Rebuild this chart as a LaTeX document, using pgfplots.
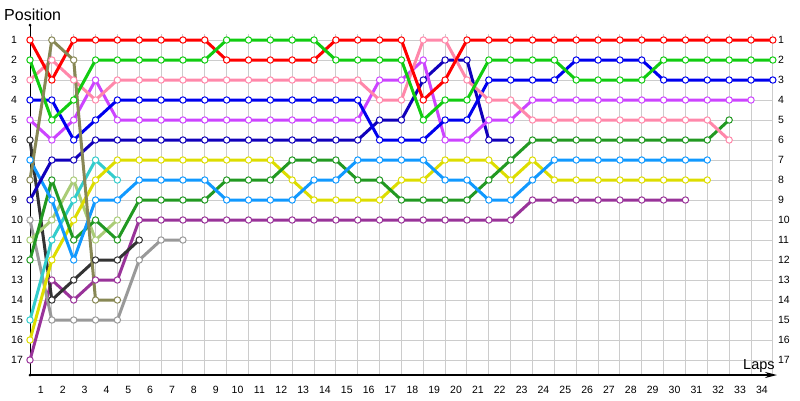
\documentclass[border=0pt]{standalone}
\usepackage{fontspec}
\setmainfont{Liberation Sans}
\usepackage{pgfplots}
\pgfplotsset{compat=1.18}
\usetikzlibrary{arrows.meta}
\definecolor{cRed}{HTML}{FF0000}
\definecolor{cGreen}{HTML}{11CC11}
\definecolor{cPink}{HTML}{FF88AA}
\definecolor{cBlue}{HTML}{0000EE}
\definecolor{cViolet}{HTML}{CC44FF}
\definecolor{cNavy}{HTML}{1100BB}
\definecolor{cYellow}{HTML}{DDDD00}
\definecolor{cLBlue}{HTML}{1199FF}
\definecolor{cDGreen}{HTML}{229922}
\definecolor{cMagenta}{HTML}{993399}
\definecolor{cGrey}{HTML}{999999}
\definecolor{cDGrey}{HTML}{333333}
\definecolor{cOlive}{HTML}{888855}
\definecolor{cCyan}{HTML}{33CCCC}
\definecolor{cLGreen}{HTML}{AACC77}
\definecolor{gridc}{HTML}{CCCCCC}
\pgfplotsset{lap/.style={color=#1, line width=3pt, line join=round, mark=*, mark size=3.2pt,
  mark options={fill=white, draw=#1, line width=1pt, solid}}}
\begin{document}
\begin{tikzpicture}
\path[use as bounding box] (0,0) rectangle (800pt,400pt);
\begin{axis}[at={(30pt,25pt)}, anchor=south west, scale only axis,
  width=747pt, height=350pt, xmin=0, xmax=34.19, ymin=0.25, ymax=17.75,
  y dir=reverse, hide axis, clip=false]
% grid
\pgfplotsinvokeforeach{0,...,34}{\draw[gridc, line width=1pt] (axis cs:#1,0.7) -- (axis cs:#1,17.75);}
\pgfplotsinvokeforeach{1,...,17}{\draw[gridc, line width=1pt] (axis cs:0,#1) -- (axis cs:34,#1);}
% axes
\draw[black, line width=1pt] (axis cs:0,17.75) -- (axis cs:0,0.25);
\fill[black] (axis cs:0,0.25) circle (1.5pt);
\fill[black] (axis cs:0,17.75) circle (1.5pt);
\draw[black, line width=1.5pt, -{Stealth[length=12pt,width=6pt]}] (axis cs:0,17.75) -- (axis cs:34.19,17.75);
% tick labels
\pgfplotsinvokeforeach{1,...,34}{\node[font=\fontsize{10.5}{12}\selectfont, anchor=base, inner sep=0pt] at ([xshift=-10.93pt, yshift=-18pt]axis cs:#1,17.75) {#1};}
\pgfplotsinvokeforeach{1,...,17}{\node[font=\fontsize{10.5}{12}\selectfont, anchor=west, inner sep=0pt] at ([xshift=-19pt]axis cs:0,#1) {#1};}
\pgfplotsinvokeforeach{1,...,17}{\node[font=\fontsize{10.5}{12}\selectfont, anchor=west, inner sep=0pt] at ([xshift=5pt]axis cs:34,#1) {#1};}
% series
\addplot[lap=cMagenta] coordinates {(0,17)(1,13)(2,14)(3,13)(4,13)(5,10)(6,10)(7,10)(8,10)(9,10)(10,10)(11,10)(12,10)(13,10)(14,10)(15,10)(16,10)(17,10)(18,10)(19,10)(20,10)(21,10)(22,10)(23,9)(24,9)(25,9)(26,9)(27,9)(28,9)(29,9)(30,9)};
\addplot[lap=cGrey] coordinates {(0,10)(1,15)(2,15)(3,15)(4,15)(5,12)(6,11)(7,11)};
\addplot[lap=cDGrey] coordinates {(0,6)(1,14)(2,13)(3,12)(4,12)(5,11)};
\addplot[lap=cLGreen] coordinates {(0,11)(1,10)(2,8)(3,11)(4,10)};
\addplot[lap=cCyan] coordinates {(0,15)(1,11)(2,9)(3,7)(4,8)};
\addplot[lap=cYellow] coordinates {(0,16)(1,12)(2,10)(3,8)(4,7)(5,7)(6,7)(7,7)(8,7)(9,7)(10,7)(11,7)(12,8)(13,9)(14,9)(15,9)(16,9)(17,8)(18,8)(19,7)(20,7)(21,7)(22,8)(23,7)(24,8)(25,8)(26,8)(27,8)(28,8)(29,8)(30,8)(31,8)};
\addplot[lap=cDGreen] coordinates {(0,12)(1,8)(2,11)(3,10)(4,11)(5,9)(6,9)(7,9)(8,9)(9,8)(10,8)(11,8)(12,7)(13,7)(14,7)(15,8)(16,8)(17,9)(18,9)(19,9)(20,9)(21,8)(22,7)(23,6)(24,6)(25,6)(26,6)(27,6)(28,6)(29,6)(30,6)(31,6)(32,5)};
\addplot[lap=cLBlue] coordinates {(0,7)(1,9)(2,12)(3,9)(4,9)(5,8)(6,8)(7,8)(8,8)(9,9)(10,9)(11,9)(12,9)(13,8)(14,8)(15,7)(16,7)(17,7)(18,7)(19,8)(20,8)(21,9)(22,9)(23,8)(24,7)(25,7)(26,7)(27,7)(28,7)(29,7)(30,7)(31,7)};
\addplot[lap=cNavy] coordinates {(0,9)(1,7)(2,7)(3,6)(4,6)(5,6)(6,6)(7,6)(8,6)(9,6)(10,6)(11,6)(12,6)(13,6)(14,6)(15,6)(16,5)(17,5)(18,3)(19,2)(20,2)(21,6)(22,6)};
\addplot[lap=cViolet] coordinates {(0,5)(1,6)(2,5)(3,3)(4,5)(5,5)(6,5)(7,5)(8,5)(9,5)(10,5)(11,5)(12,5)(13,5)(14,5)(15,5)(16,3)(17,3)(18,2)(19,6)(20,6)(21,5)(22,5)(23,4)(24,4)(25,4)(26,4)(27,4)(28,4)(29,4)(30,4)(31,4)(32,4)(33,4)};
\addplot[lap=cBlue] coordinates {(0,4)(1,4)(2,6)(3,5)(4,4)(5,4)(6,4)(7,4)(8,4)(9,4)(10,4)(11,4)(12,4)(13,4)(14,4)(15,4)(16,6)(17,6)(18,6)(19,5)(20,5)(21,3)(22,3)(23,3)(24,3)(25,2)(26,2)(27,2)(28,2)(29,3)(30,3)(31,3)(32,3)(33,3)(34,3)};
\addplot[lap=cPink] coordinates {(0,3)(1,2)(2,3)(3,4)(4,3)(5,3)(6,3)(7,3)(8,3)(9,3)(10,3)(11,3)(12,3)(13,3)(14,3)(15,3)(16,4)(17,4)(18,1)(19,1)(20,3)(21,4)(22,4)(23,5)(24,5)(25,5)(26,5)(27,5)(28,5)(29,5)(30,5)(31,5)(32,6)};
\addplot[lap=cRed] coordinates {(0,1)(1,3)(2,1)(3,1)(4,1)(5,1)(6,1)(7,1)(8,1)(9,2)(10,2)(11,2)(12,2)(13,2)(14,1)(15,1)(16,1)(17,1)(18,4)(19,3)(20,1)(21,1)(22,1)(23,1)(24,1)(25,1)(26,1)(27,1)(28,1)(29,1)(30,1)(31,1)(32,1)(33,1)(34,1)};
\addplot[lap=cGreen] coordinates {(0,2)(1,5)(2,4)(3,2)(4,2)(5,2)(6,2)(7,2)(8,2)(9,1)(10,1)(11,1)(12,1)(13,1)(14,2)(15,2)(16,2)(17,2)(18,5)(19,4)(20,4)(21,2)(22,2)(23,2)(24,2)(25,3)(26,3)(27,3)(28,3)(29,2)(30,2)(31,2)(32,2)(33,2)(34,2)};
\addplot[lap=cOlive] coordinates {(0,8)(1,1)(2,2)(3,14)(4,14)};
\end{axis}
\node[anchor=base west, inner sep=0pt, font=\fontsize{16}{18}\selectfont] at (4pt,379pt) {Position};
\node[anchor=base west, inner sep=0pt, font=\fontsize{14.5}{16}\selectfont] at (743pt,31pt) {Laps};
\end{tikzpicture}
\end{document}
